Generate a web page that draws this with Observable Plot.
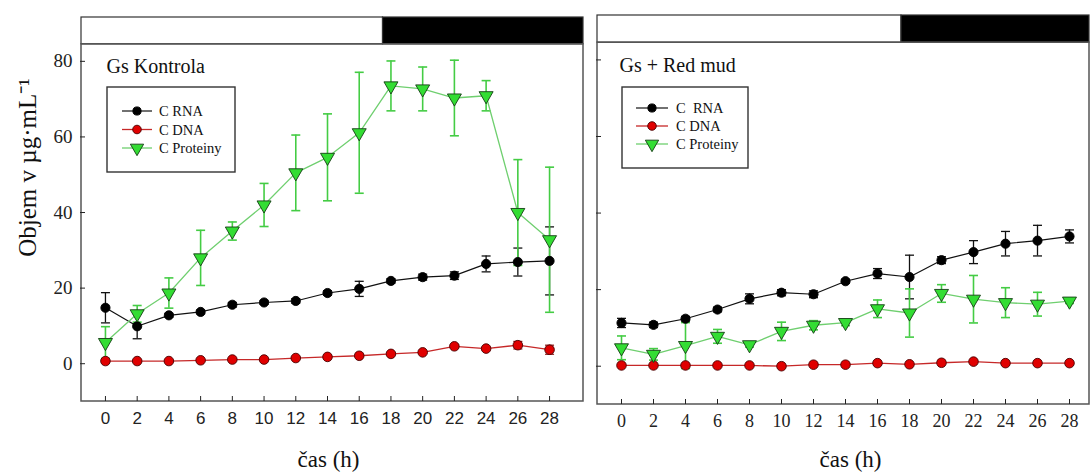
<!DOCTYPE html>
<html>
<head>
<meta charset="utf-8">
<script src="https://cdn.jsdelivr.net/npm/d3@7"></script>
<script src="https://cdn.jsdelivr.net/npm/@observablehq/plot@0.6"></script>
<style>
  body { margin: 0; background: #fff; }
  #wrap { position: relative; width: 1090px; height: 473px; overflow: hidden; background: #fff; }
  #wrap svg { position: absolute; top: 0; }
</style>
</head>
<body>
<div id="wrap"></div>
<script>
// ---------------- DATA ----------------
const hours = [0, 2, 4, 6, 8, 10, 12, 14, 16, 18, 20, 22, 24, 26, 28];
const yTicks = [0, 20, 40, 60, 80];
const seriesNames = ["C RNA", "C DNA", "C Proteiny"];
const legendLabelsKontrola = ["C RNA", "C DNA", "C Proteiny"];
const legendLabelsRedMud = ["C  RNA", "C DNA", "C Proteiny"];
const panelTitles = ["Gs Kontrola", "Gs + Red mud"];
const xLabel = "čas (h)";
const yLabel = "Objem v µg·mL⁻¹";
const darkStart = 17.5; // start of dark period (h)

// Gs Kontrola
const kontrolaRNA     = [14.8, 9.9, 12.8, 13.7, 15.6, 16.2, 16.6, 18.7, 19.8, 21.9, 22.9, 23.3, 26.4, 26.9, 27.2];
const kontrolaRNAErr  = [4.0, 3.3, 0.5, 0.5, 0.6, 0.5, 0.6, 0.6, 2.0, 0.6, 0.8, 1.0, 2.1, 3.7, 9.0];
const kontrolaDNA     = [0.7, 0.7, 0.7, 0.9, 1.1, 1.1, 1.5, 1.8, 2.1, 2.6, 3.0, 4.6, 4.0, 4.9, 3.7];
const kontrolaDNAErr  = [0.3, 0.3, 0.3, 0.3, 0.3, 0.3, 0.3, 0.3, 0.3, 0.3, 0.3, 0.4, 0.4, 1.0, 1.2];
const kontrolaProt    = [5.6, 13.2, 18.7, 28.0, 35.1, 42.0, 50.5, 54.6, 61.1, 73.5, 72.7, 70.3, 70.9, 40.0, 32.8];
const kontrolaProtErr = [4.2, 2.2, 4.0, 7.3, 2.4, 5.7, 10.0, 11.5, 16.0, 6.6, 5.8, 10.0, 4.0, 14.0, 19.2];

// Gs + Red mud
const redmudRNA     = [11.3, 10.8, 12.4, 14.8, 17.6, 19.2, 18.8, 22.2, 24.2, 23.3, 27.7, 29.8, 32.0, 32.8, 33.9];
const redmudRNAErr  = [1.2, 0.7, 0.6, 0.6, 1.3, 0.8, 0.9, 0.5, 1.3, 5.7, 0.9, 3.0, 3.2, 4.0, 1.7];
const redmudDNA     = [0.2, 0.2, 0.2, 0.2, 0.2, 0.0, 0.4, 0.4, 0.8, 0.5, 0.9, 1.2, 0.8, 0.8, 0.8];
const redmudDNAErr  = [0.2, 0.2, 0.2, 0.2, 0.2, 0.2, 0.2, 0.2, 0.2, 0.2, 0.2, 0.3, 0.2, 0.2, 0.2];
const redmudProt    = [4.8, 3.1, 5.4, 7.8, 5.6, 9.1, 10.7, 11.4, 15.0, 13.9, 19.0, 17.5, 16.6, 16.2, 17.0];
const redmudProtErr = [3.1, 1.5, 6.0, 1.8, 0.6, 2.4, 1.2, 0.8, 2.3, 6.3, 2.3, 6.2, 3.9, 3.1, 0.6];

// ---------------- STYLE ----------------
const SERIF = "'Liberation Serif', 'Times New Roman', serif";
const SANS = "'Liberation Sans', Arial, sans-serif";
const style = {
  "C RNA":      { line: "#111", lw: 1.2, fill: "#000", stroke: "#000", symbol: "circle", r: 4.6, rotate: 0, err: "#111", ew: 1.3 },
  "C DNA":      { line: "#c62828", lw: 1.3, fill: "#e00000", stroke: "#4a0000", symbol: "circle", r: 4.8, rotate: 0, err: "#8a1010", ew: 1.2 },
  "C Proteiny": { line: "#6fcf6f", lw: 1.3, fill: "#33dd33", stroke: "#143d14", symbol: "triangle", r: 5.2, rotate: 180, err: "#44cc44", ew: 1.6 }
};
const capSymbol = { draw(ctx) { ctx.moveTo(-4.5, 0); ctx.lineTo(4.5, 0); } };

function rows(vals, errs) {
  return hours.map((t, i) => ({ t, v: vals[i], lo: vals[i] - errs[i], hi: vals[i] + errs[i] }));
}

function makePanel(cfg) {
  const [xmin, xmax] = cfg.xDomain;
  const yDomain = [-10, 91.6];
  const frameTop = 84.5;
  const periods = [
    { x1: xmin, x2: darkStart, fill: "#ffffff" },
    { x1: darkStart, x2: xmax, fill: "#000000" }
  ];
  const marks = [];
  // top light/dark bar
  marks.push(Plot.rect(periods, { x1: "x1", x2: "x2", y1: () => frameTop, y2: () => yDomain[1], fill: d => d.fill, stroke: "#333", strokeWidth: 1.2 }));
  // plot frame
  marks.push(Plot.rect([0], { x1: () => xmin, x2: () => xmax, y1: () => yDomain[0], y2: () => frameTop, fill: "none", stroke: "#555", strokeWidth: 1.5 }));
  // axes
  marks.push(Plot.axisX({ ticks: hours, tickSize: 5, dy: -5, tickPadding: 10, fontSize: cfg.xFontSize, fontFamily: cfg.xFont, color: "#222", tickFormat: d => String(d) }));
  marks.push(Plot.axisY({ ticks: yTicks, tickSize: 5, dx: 4, tickPadding: 8, fontSize: 19, fontFamily: SERIF, color: "#222", tickFormat: cfg.yLabels ? (d => String(d)) : (() => "") }));

  const order = ["C RNA", "C DNA", "C Proteiny"];
  // error bars
  for (const name of order) {
    const data = cfg.series[name];
    const s = style[name];
    marks.push(Plot.ruleX(data, { x: "t", y1: "lo", y2: "hi", stroke: s.err, strokeWidth: s.ew }));
    marks.push(Plot.dot(data, { x: "t", y: "hi", symbol: capSymbol, fill: "none", stroke: s.err, strokeWidth: s.ew }));
    marks.push(Plot.dot(data, { x: "t", y: "lo", symbol: capSymbol, fill: "none", stroke: s.err, strokeWidth: s.ew }));
  }
  // lines
  for (const name of order) {
    const s = style[name];
    marks.push(Plot.line(cfg.series[name], { x: "t", y: "v", stroke: s.line, strokeWidth: s.lw }));
  }
  // markers
  for (const name of order) {
    const s = style[name];
    marks.push(Plot.dot(cfg.series[name], { x: "t", y: "v", symbol: s.symbol, r: s.r, rotate: s.rotate, fill: s.fill, stroke: s.stroke, strokeWidth: 0.9 }));
  }
  // panel title
  marks.push(Plot.text([cfg.title], { text: d => d, frameAnchor: "top-left", dx: cfg.titleDx, dy: cfg.titleDy, textAnchor: "start", lineAnchor: "middle", fontSize: 20, fontFamily: SERIF, fill: "#111" }));
  // x label
  marks.push(Plot.text([xLabel], { text: d => d, frameAnchor: "bottom", dx: cfg.xLabDx, dy: cfg.xLabDy, textAnchor: "middle", lineAnchor: "middle", fontSize: 23, fontFamily: SERIF, fill: "#111" }));
  if (cfg.yLabels) {
    marks.push(Plot.text([yLabel], { text: d => d, frameAnchor: "left", dx: -54, dy: -42, rotate: -90, textAnchor: "middle", lineAnchor: "middle", fontSize: 25, fontFamily: SERIF, fill: "#111" }));
  }

  const svg = Plot.plot({
    width: cfg.width,
    height: 473,
    marginLeft: cfg.marginLeft,
    marginRight: cfg.marginRight,
    marginTop: cfg.marginTop,
    marginBottom: cfg.marginBottom,
    x: { domain: cfg.xDomain },
    y: { domain: yDomain },
    style: { background: "transparent", overflow: "visible" },
    marks
  });

  // legend box (drawn on the same svg)
  const g = d3.select(svg).append("g")
    .attr("transform", `translate(${cfg.legend.x},${cfg.legend.y})`)
    .attr("text-anchor", "start");
  g.append("rect").attr("width", cfg.legend.w).attr("height", cfg.legend.h).attr("fill", "#fff").attr("stroke", "#333").attr("stroke-width", 1.4);
  order.forEach((name, i) => {
    const s = style[name];
    const yy = cfg.legend.row0 + i * cfg.legend.rowStep;
    g.append("line").attr("x1", cfg.legend.lx1).attr("x2", cfg.legend.lx2).attr("y1", yy).attr("y2", yy).attr("stroke", s.line).attr("stroke-width", s.lw);
    const sym = s.symbol === "circle" ? d3.symbolCircle : d3.symbolTriangle;
    g.append("path").attr("d", d3.symbol(sym, Math.PI * s.r * s.r * (s.symbol === "circle" ? 0.8 : 0.9))())
      .attr("transform", `translate(${(cfg.legend.lx1 + cfg.legend.lx2) / 2},${yy}) rotate(${s.rotate})`)
      .attr("fill", s.fill).attr("stroke", s.stroke).attr("stroke-width", 0.9);
    g.append("text").attr("x", cfg.legend.tx).attr("y", yy).attr("dy", "0.35em")
      .attr("text-anchor", "start")
      .attr("font-family", SERIF).attr("font-size", 14.5).attr("fill", "#111")
      .style("white-space", "pre")
      .text(cfg.legendLabels[i]);
  });
  return svg;
}

const left = makePanel({
  width: 590, marginLeft: 81, marginRight: 7, marginTop: 17, marginBottom: 72,
  xDomain: [-1.51, 30.14],
  xFont: SANS, xFontSize: 17,
  yLabels: true,
  title: panelTitles[0], titleDx: 25, titleDy: 49,
  xLabDx: -4, xLabDy: 58,
  series: {
    "C RNA": rows(kontrolaRNA, kontrolaRNAErr),
    "C DNA": rows(kontrolaDNA, kontrolaDNAErr),
    "C Proteiny": rows(kontrolaProt, kontrolaProtErr)
  },
  legendLabels: legendLabelsKontrola,
  legend: { x: 107, y: 87, w: 128, h: 85, row0: 24, rowStep: 18.5, lx1: 15, lx2: 45, tx: 52 }
});

const right = makePanel({
  width: 500, marginLeft: 7, marginRight: 1, marginTop: 15, marginBottom: 69,
  xDomain: [-1.5, 29.25],
  xFont: SERIF, xFontSize: 18,
  yLabels: false,
  title: panelTitles[1], titleDx: 22, titleDy: 50,
  xLabDx: 7, xLabDy: 55,
  series: {
    "C RNA": rows(redmudRNA, redmudRNAErr),
    "C DNA": rows(redmudDNA, redmudDNAErr),
    "C Proteiny": rows(redmudProt, redmudProtErr)
  },
  legendLabels: legendLabelsRedMud,
  legend: { x: 32, y: 87, w: 126, h: 81, row0: 21, rowStep: 18, lx1: 14, lx2: 46, tx: 54 }
});

const wrap = document.getElementById("wrap");
left.style.left = "0px";
right.style.left = "590px";
wrap.appendChild(left);
wrap.appendChild(right);
</script>
</body>
</html>
